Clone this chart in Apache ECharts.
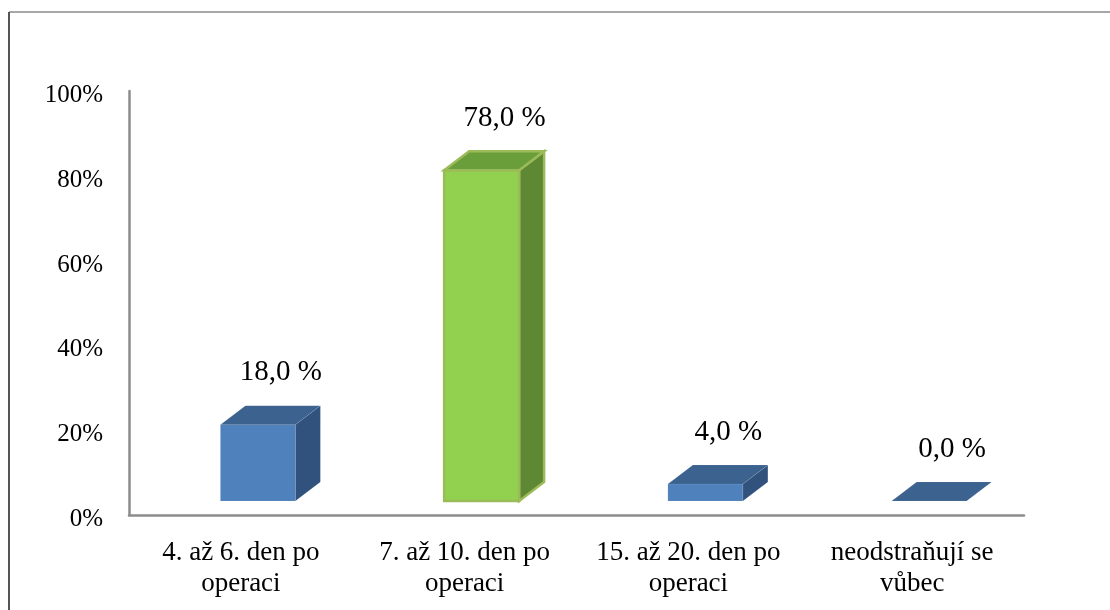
<!DOCTYPE html>
<html>
<head>
<meta charset="utf-8">
<script src="https://cdn.jsdelivr.net/npm/echarts@6/dist/echarts.min.js"></script>
<style>
  html, body { margin: 0; padding: 0; background: #fff; }
  #chart { width: 1110px; height: 610px; }
</style>
</head>
<body>
<div id="chart"></div>
<script>
const categories = [
  "4. až 6. den po\noperaci",
  "7. až 10. den po\noperaci",
  "15. až 20. den po\noperaci",
  "neodstraňují se\nvůbec",
];
const values = [18.0, 78.0, 4.0, 0.0];
const yTicks = [0, 20, 40, 60, 80, 100];

// barvy: přední stěna, horní stěna, boční stěna, okraj
const faceColors = [
  ["#4f81bd", "#3c628f", "#31527d", null],
  ["#92d050", "#6a9e3a", "#5e8833", "#9bbb59"],
  ["#4f81bd", "#3c628f", "#31527d", null],
  ["#4f81bd", "#3c628f", "#31527d", null],
];

const myChart = echarts.init(document.getElementById("chart"));

function renderBar(params, api) {
  const idx = params.dataIndex;
  const base = api.coord([api.value(0), 0]);
  const top = api.coord([api.value(0), api.value(1)]);
  const band = api.size([1, 0])[0];
  const w = band * 0.335;
  const cx = base[0] + band * 0.076;
  const lift = 14; // posun podlahy 3D
  const dx = 25, dy = -19;
  const x0 = cx - w / 2, x1 = cx + w / 2;
  const yb = base[1] - lift, yt = top[1] - lift;
  const c = faceColors[idx];
  const stroke = c[3] ? { stroke: c[3], lineWidth: 2.5 } : { stroke: "rgba(255,255,255,0.15)", lineWidth: 0.5 };
  const children = [];
  if (yb - yt > 0.5) {
    children.push({
      type: "polygon",
      shape: { points: [[x1, yt], [x1 + dx, yt + dy], [x1 + dx, yb + dy], [x1, yb]] },
      style: Object.assign({ fill: c[2] }, stroke),
    });
    children.push({
      type: "rect",
      shape: { x: x0, y: yt, width: w, height: yb - yt },
      style: Object.assign({ fill: c[0] }, stroke),
    });
  }
  children.push({
    type: "polygon",
    shape: { points: [[x0, yt], [x0 + dx, yt + dy], [x1 + dx, yt + dy], [x1, yt]] },
    style: Object.assign({ fill: c[1] }, stroke),
  });
  children.push({
    type: "text",
    style: {
      text: api.value(1).toFixed(1).replace(".", ",") + " %",
      x: cx + 23,
      y: yt + dy - 33,
      align: "center",
      verticalAlign: "middle",
      font: '29px "Liberation Serif"',
      fill: "#000",
    },
  });
  return { type: "group", children: children };
}

let option = {
  animation: false,
  backgroundColor: "#fff",
  grid: {
    left: 129,
    right: 86,
    top: 91,
    bottom: 95,
  },
  graphic: [
    {
      type: "line",
      shape: { x1: 9, y1: 12, x2: 1110, y2: 12 },
      style: { stroke: "#8a8a8a", lineWidth: 1.5 },
    },
    {
      type: "line",
      shape: { x1: 9, y1: 12, x2: 9, y2: 610 },
      style: { stroke: "#555", lineWidth: 2 },
    },
  ],
  xAxis: {
    type: "category",
    data: categories,
    axisTick: { show: false },
    axisLine: { lineStyle: { color: "#8c8c8c", width: 2.5 } },
    axisLabel: {
      interval: 0,
      margin: 22,
      color: "#000",
      fontFamily: "Liberation Serif",
      fontSize: 27,
      lineHeight: 31,
    },
  },
  yAxis: {
    type: "value",
    min: 0,
    max: 100,
    interval: 20,
    axisLine: { show: true, lineStyle: { color: "#8c8c8c", width: 2.5 } },
    axisTick: { show: false },
    splitLine: { show: false },
    axisLabel: {
      margin: 26,
      color: "#000",
      fontFamily: "Liberation Serif",
      fontSize: 25,
      formatter: (v) => (yTicks.indexOf(v) >= 0 ? "{t|" + v + "%}" : ""),
      rich: {
        t: {
          fontFamily: "Liberation Serif",
          fontSize: 25,
          color: "#000",
          padding: [9, 0, 0, 0],
        },
      },
    },
  },
  series: [
    {
      type: "custom",
      renderItem: renderBar,
      data: values.map((v, i) => [i, v]),
      encode: { x: 0, y: 1 },
      clip: false,
    },
  ],
};
myChart.setOption(option);
</script>
</body>
</html>
